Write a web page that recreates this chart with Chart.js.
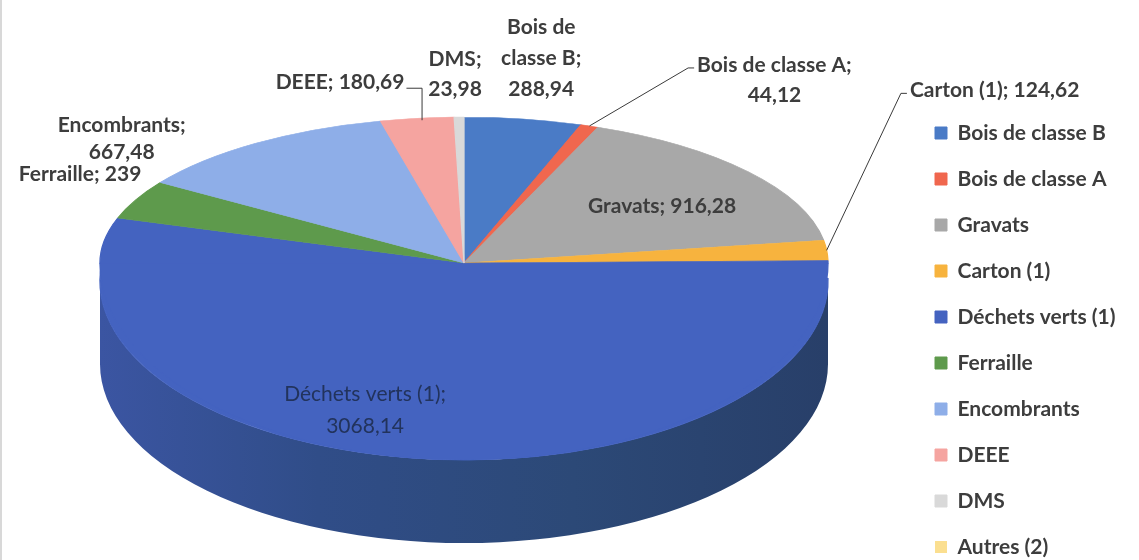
<!DOCTYPE html>
<html><head><meta charset="utf-8">
<script src="https://cdn.jsdelivr.net/npm/chart.js@4.4.1/dist/chart.umd.min.js"></script>
<style>
html,body{margin:0;padding:0;background:#fff;}
#wrap{position:relative;width:1139px;height:560px;overflow:hidden;}
.edge{position:absolute;left:0;top:0;width:2px;height:560px;background:#d8d8d8;}
</style>
</head><body>
<div id="wrap"><canvas id="c" width="1139" height="560"></canvas><div class="edge"></div></div>
<script>
// ---- data ----
const categories = ['Bois de classe B','Bois de classe A','Gravats','Carton (1)','Déchets verts (1)','Ferraille','Encombrants','DEEE','DMS','Autres (2)'];
const values = [288.94, 44.12, 916.28, 124.62, 3068.14, 239, 667.48, 180.69, 23.98, 0];
const colors = ['#4a7bc6','#f0674e','#a8a8a8','#f7b33e','#4463c0','#5e9a4c','#8eaee8','#f5a4a0','#d9d9d9','#fbdf90'];

// ---- layout (positions/styles only) ----
const W = 1139, H = 560;
const CX = 464, RX = 364;
const AY = 263, RY_T = 146, RY_B = 197;   // apex + perspective radii (top face)
const CY0 = 281, RY0 = 179, DEPTH = 83;    // body ellipse (side wall)
const TXT = '#3d3d3d';
const FONT = 'bold 21px Lato';
const fmt = v => String(v).replace('.', ',');
const labelLayout = {
  0: {dx: 18, dy: -61, lh: 31, lines: (n, v) => { const w = n.split(' '); return [w.slice(0,2).join(' '), w.slice(2).join(' ') + ';', v]; }},
  1: {dx: 185, dy: -46, lh: 30, lines: (n, v) => [n + ';', v], leader: 'left'},
  2: {dx: -86, dy: 35, lh: 30, lines: (n, v) => [n + '; ' + v]},
  3: {dx: 168, dy: -160, lh: 30, lines: (n, v) => [n + '; ' + v], leader: 'left'},
  4: {dx: -45, dy: -48, lh: 32, lines: (n, v) => [n + ';', v], color: '#22335c', weight: 'normal'},
  5: {dx: -56, dy: -25, lh: 30, lines: (n, v) => [n + '; ' + v]},
  6: {dx: -134, dy: -5, lh: 27, lines: (n, v) => [n + ';', v]},
  7: {dx: -77, dy: -36, lh: 30, lines: (n, v) => [n + '; ' + v], leader: 'right'},
  8: {dx: -4, dy: -43, lh: 30, lines: (n, v) => [n + ';', v]}
};

function applyT(ctx, a0, cy, ry) {
  ctx.translate(CX, cy);
  ctx.scale(RX / a0.outerRadius, ry / a0.outerRadius);
  ctx.translate(-a0.x, -a0.y);
}

const threeD = {
  id: 'threeD',
  afterLayout(chart) {
    const lg = chart.legend;
    if (!lg) return;
    const pad = lg.options.labels.padding;
    const fs = lg.options.labels.font.size;
    const dx = 935 - (lg.left + pad);
    const dy = 133 - (lg.top + pad + fs / 2);
    lg.left += dx; lg.right += dx; lg.top += dy; lg.bottom += dy;
  },
  beforeDatasetsDraw(chart) {
    const ctx = chart.ctx;
    const meta = chart.getDatasetMeta(0);
    const a0 = meta.data[0];
    // side walls (front half only)
    const grad = ctx.createLinearGradient(CX - RX, 0, CX + RX, 0);
    grad.addColorStop(0, '#3b55a2');
    grad.addColorStop(0.3, '#304d88');
    grad.addColorStop(0.65, '#2c4977');
    grad.addColorStop(1, '#283f69');
    meta.data.forEach((arc, i) => {
      if (!values[i]) return;
      const s = Math.max(arc.startAngle, 0), e = Math.min(arc.endAngle, Math.PI);
      if (s >= e) return;
      ctx.save();
      ctx.beginPath();
      ctx.ellipse(CX, CY0, RX, RY0, 0, s, e, false);
      ctx.ellipse(CX, CY0 + DEPTH, RX, RY0, 0, e, s, true);
      ctx.closePath();
      ctx.fillStyle = i === 4 ? grad : colors[i];
      ctx.fill();
      ctx.restore();
    });
    // body top (fills the rim below the apex)
    ctx.save();
    applyT(ctx, a0, CY0, RY0);
    meta.data[4].draw(ctx);
    ctx.restore();
    // lower half of top face (drawn by the chart itself)
    ctx.save();
    ctx.beginPath();
    ctx.rect(0, AY, W, H - AY);
    ctx.clip();
    applyT(ctx, a0, AY, RY_B);
  },
  afterDatasetsDraw(chart) {
    const ctx = chart.ctx;
    ctx.restore();
    const meta = chart.getDatasetMeta(0);
    const a0 = meta.data[0];
    // upper half of top face
    ctx.save();
    ctx.beginPath();
    ctx.rect(0, 0, W, AY + 0.5);
    ctx.clip();
    applyT(ctx, a0, AY, RY_T);
    meta.data.forEach(a => a.draw(ctx));
    ctx.restore();
    // data labels
    ctx.save();
    ctx.textAlign = 'center';
    ctx.textBaseline = 'middle';
    meta.data.forEach((arc, i) => {
      const L = labelLayout[i];
      if (!L || !values[i]) return;
      ctx.font = L.weight ? FONT.replace('bold', L.weight) : FONT;
      const mid = (arc.startAngle + arc.endAngle) / 2;
      const sn = Math.sin(mid);
      const px = CX + RX * Math.cos(mid), py = AY + (sn < 0 ? RY_T : RY_B) * sn;
      const lx = px + L.dx, ly = py + L.dy;
      const lines = L.lines(categories[i], fmt(values[i]));
      const y0 = ly - (lines.length - 1) * L.lh / 2;
      ctx.fillStyle = L.color || TXT;
      let maxW = 0;
      lines.forEach((t, k) => { ctx.fillText(t, lx, y0 + k * L.lh); maxW = Math.max(maxW, ctx.measureText(t).width); });
      if (L.leader) {
        ctx.strokeStyle = '#3a3a3a';
        ctx.lineWidth = 1;
        ctx.beginPath();
        if (L.leader === 'left') {
          const left = lx - maxW / 2;
          ctx.moveTo(left - 3, y0 + 3);
          ctx.lineTo(left - 9, y0 + 3);
          ctx.lineTo(px, py);
        } else {
          const right = lx + maxW / 2;
          ctx.moveTo(right + 2, y0 + 6);
          ctx.lineTo(px + 5, y0 + 6);
          ctx.lineTo(px + 5, py + 2);
        }
        ctx.stroke();
      }
    });
    ctx.restore();
  }
};

new Chart(document.getElementById('c'), {
  type: 'pie',
  data: {
    labels: categories,
    datasets: [{
      data: values,
      backgroundColor: colors,
      borderColor: colors,
      borderWidth: c => (values[c.dataIndex] > 0 ? 1 : 0),
      clip: false
    }]
  },
  options: {
    responsive: false,
    animation: false,
    events: [],
    layout: {padding: 0},
    plugins: {
      tooltip: {enabled: false},
      legend: {
        position: 'right',
        align: 'start',
        labels: {
          boxWidth: 12, boxHeight: 12, padding: 25,
          color: TXT,
          font: {family: 'Lato', size: 21, weight: 'bold'}
        }
      }
    }
  },
  plugins: [threeD]
});
</script>
</body></html>
